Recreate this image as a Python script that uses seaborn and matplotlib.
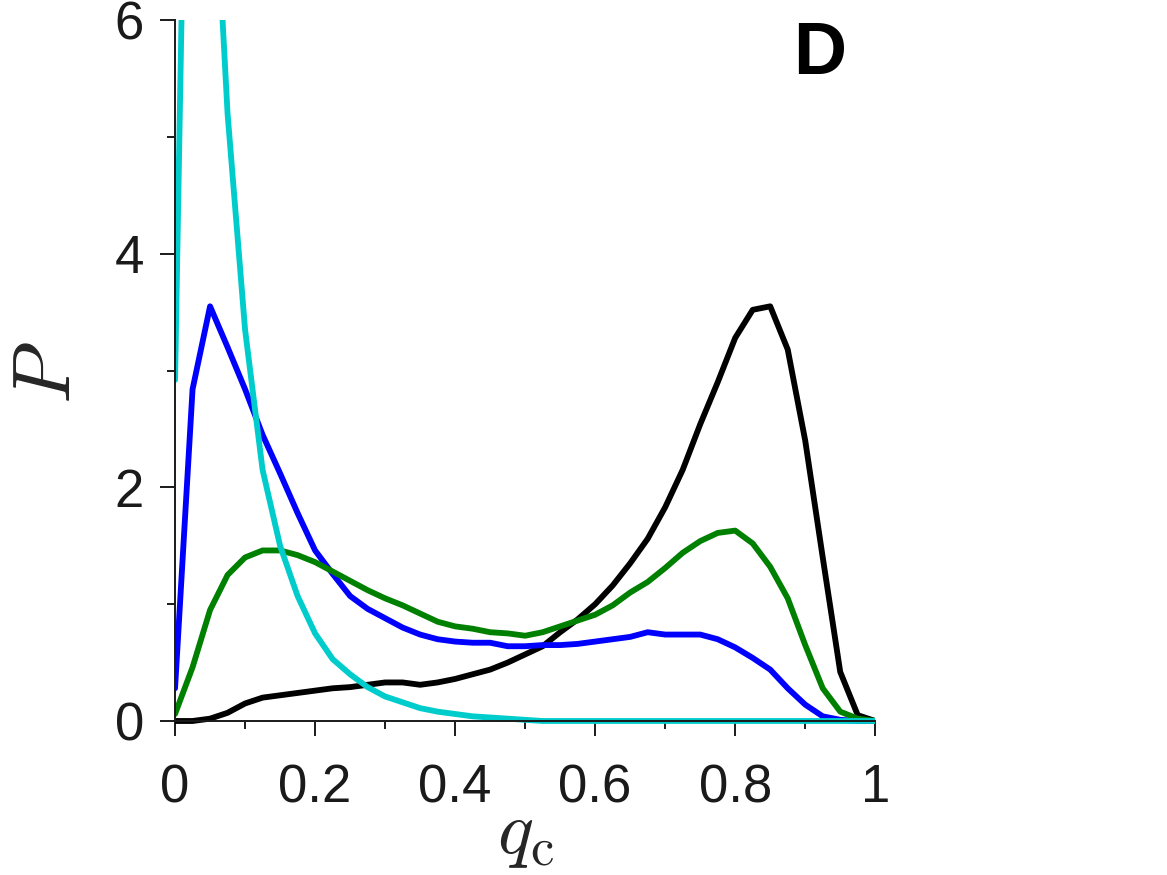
import numpy as np
import pandas as pd
import matplotlib
matplotlib.use("Agg")
import matplotlib.pyplot as plt
import seaborn as sns
from matplotlib.ticker import MultipleLocator

# ---- data ----
q_c = [i * 0.025 for i in range(41)]

p_black = [0.00, 0.00, 0.02, 0.07, 0.15, 0.20, 0.22, 0.24, 0.26, 0.28,
           0.29, 0.31, 0.33, 0.33, 0.31, 0.33, 0.36, 0.40, 0.44, 0.50,
           0.57, 0.64, 0.76, 0.87, 1.00, 1.16, 1.35, 1.56, 1.83, 2.15,
           2.54, 2.90, 3.28, 3.52, 3.55, 3.18, 2.40, 1.40, 0.42, 0.05, 0.00]

p_blue = [0.28, 2.84, 3.55, 3.20, 2.84, 2.45, 2.12, 1.78, 1.46, 1.26,
          1.07, 0.96, 0.88, 0.80, 0.74, 0.70, 0.68, 0.67, 0.67, 0.64,
          0.64, 0.65, 0.65, 0.66, 0.68, 0.70, 0.72, 0.76, 0.74, 0.74,
          0.74, 0.70, 0.63, 0.54, 0.44, 0.28, 0.14, 0.04, 0.01, 0.00, 0.00]

p_green = [0.06, 0.46, 0.95, 1.25, 1.40, 1.46, 1.46, 1.42, 1.36, 1.28,
           1.20, 1.12, 1.05, 0.99, 0.92, 0.85, 0.81, 0.79, 0.76, 0.75,
           0.73, 0.76, 0.81, 0.86, 0.91, 0.99, 1.10, 1.19, 1.31, 1.44,
           1.54, 1.61, 1.63, 1.52, 1.32, 1.05, 0.65, 0.28, 0.08, 0.02, 0.00]

p_cyan = [2.92, 11.3, 8.0, 5.2, 3.35, 2.15, 1.50, 1.07, 0.75, 0.53,
          0.40, 0.29, 0.21, 0.16, 0.11, 0.08, 0.06, 0.04, 0.03, 0.02,
          0.01, 0.00, 0.00, 0.00, 0.00, 0.00, 0.00, 0.00, 0.00, 0.00,
          0.00, 0.00, 0.00, 0.00, 0.00, 0.00, 0.00, 0.00, 0.00, 0.00, 0.00]

series_names = ["black", "blue", "green", "cyan"]
series_values = [p_black, p_blue, p_green, p_cyan]
colors = ["#000000", "#0000FF", "#008000", "#00CCCC"]

y_ticks = [0, 2, 4, 6]
x_ticks = [0, 0.2, 0.4, 0.6, 0.8, 1]
x_ticklabels = ["0", "0.2", "0.4", "0.6", "0.8", "1"]
panel_label = "D"

df = pd.concat([pd.DataFrame({"q": q_c, "P": v, "s": n})
                for n, v in zip(series_names, series_values)], ignore_index=True)

# ---- plot ----
sns.set_style("ticks")
plt.rcParams["font.family"] = ["Liberation Sans", "DejaVu Sans"]
plt.rcParams["mathtext.fontset"] = "cm"

fig = plt.figure(figsize=(11.67, 8.75), dpi=100)
ax = fig.add_axes([0.15, 0.172, 0.60, 0.805])

sns.lineplot(data=df, x="q", y="P", hue="s", hue_order=series_names,
             palette=colors, linewidth=4.2, legend=False, ax=ax, sort=False)

ax.set_xlim(0, 1)
ax.set_ylim(-0.03, 6)
ax.spines["bottom"].set_position(("data", 0))
ax.spines["left"].set_bounds(0, 6)
ax.spines["top"].set_visible(False)
ax.spines["right"].set_visible(False)
for sp in ("left", "bottom"):
    ax.spines[sp].set_linewidth(1.4)
    ax.spines[sp].set_color("#1a1a1a")

ax.set_xticks(x_ticks)
ax.set_xticklabels(x_ticklabels)
ax.set_yticks(y_ticks)
ax.set_yticklabels([str(t) for t in y_ticks])
ax.xaxis.set_minor_locator(MultipleLocator(0.1))
ax.yaxis.set_minor_locator(MultipleLocator(1))

ax.tick_params(axis="x", which="major", direction="out", length=10.5, width=1.4,
               pad=20, labelsize=38, colors="#1a1a1a")
ax.tick_params(axis="x", which="minor", direction="out", length=5.5, width=1.4,
               colors="#1a1a1a")
ax.tick_params(axis="y", which="major", direction="out", length=10.5, width=1.4,
               pad=12, labelsize=38, colors="#1a1a1a")
ax.tick_params(axis="y", which="minor", direction="out", length=5.5, width=1.4,
               colors="#1a1a1a")

ax.set_xlabel(r"$q_{\mathrm{c}}$", fontsize=54, va="center")
ax.set_ylabel(r"$P$", fontsize=58, va="center")
ax.xaxis.set_label_coords(0.5, -0.158)
ax.yaxis.set_label_coords(-0.18, 0.50)

ax.text(0.92, 0.951, panel_label, transform=ax.transAxes, fontsize=53,
        fontweight="bold", ha="center", va="center", color="black")

fig.savefig("out.png", dpi=100)
